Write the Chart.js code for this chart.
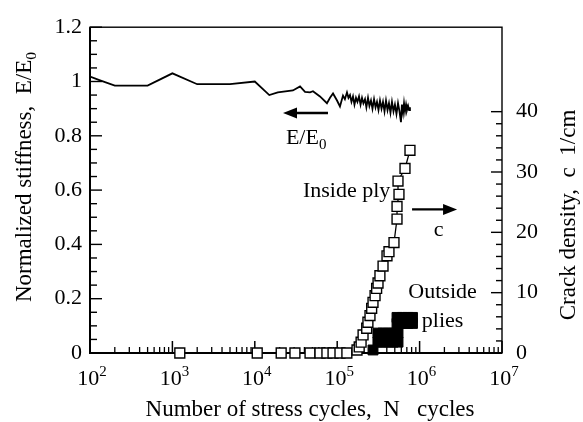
<!DOCTYPE html>
<html lang="en">
<head>
  <meta charset="UTF-8" />
  <title>Stiffness and crack density</title>
  <script src="https://cdn.jsdelivr.net/npm/chart.js"></script>
  <style>
    html, body { margin: 0; padding: 0; background: #fff; }
    #wrap { width: 583px; height: 422px; position: relative; }
  </style>
</head>
<body>
  <div id="wrap"><canvas id="chart"></canvas></div>

  <script>
    // ---- data ----
    const xTicks = [1e2, 1e3, 1e4, 1e5, 1e6, 1e7]
    const xTickExp = ['2', '3', '4', '5', '6', '7']   // labels are 10^exp
    const leftTicks = [0, 0.2, 0.4, 0.6, 0.8, 1, 1.2]
    const rightTicks = [0, 10, 20, 30, 40]

    // normalized stiffness E/E0 vs cycles
    const stiffN = [100, 130, 200, 500, 1000, 2000, 5000, 10000, 15000, 19000, 29000, 35400, 40700, 46800, 50800,
      61800, 75100, 81800, 89000, 99500, 108000, 117600, 124000, 131400, 137000, 143000, 149000, 155500, 162000,
      169000, 176000, 184000, 192000, 200000, 208000, 217500, 226000, 236500, 246000, 257000, 268000, 280000,
      292000, 304000, 317000, 330600, 345000, 359500, 375000, 391000, 408000, 425000, 443000, 462000, 482000,
      502000, 524000, 547000, 570000, 594000, 610000, 630000, 647000, 665000, 685000, 703000, 725000, 745000, 764000]
    const stiffE = [1.018, 1.005, 0.985, 0.985, 1.03, 0.99, 0.99, 1.0, 0.95, 0.96, 0.967, 0.982, 0.962, 0.96, 0.964,
      0.945, 0.92, 0.94, 0.956, 0.93, 0.908, 0.948, 0.935, 0.96, 0.94, 0.95, 0.925, 0.945, 0.915,
      0.94, 0.925, 0.945, 0.915, 0.94, 0.92, 0.935, 0.905, 0.94, 0.91, 0.93, 0.9, 0.935,
      0.905, 0.925, 0.895, 0.93, 0.9, 0.925, 0.89, 0.93, 0.895, 0.92, 0.885, 0.925, 0.89,
      0.915, 0.88, 0.92, 0.89, 0.85, 0.915, 0.885, 0.92, 0.89, 0.915, 0.895, 0.91, 0.895, 0.905]

    // crack density, inside ply (open squares)
    const insideN = [1230, 10700, 20900, 30700, 46800, 61800, 75000, 89000, 108000, 131000, 174000, 185000,
      195000, 206000, 228000, 236000, 250000, 262000, 272000, 288000, 301000, 313000, 330000, 360000,
      402000, 425000, 489000, 532000, 532000, 562000, 547000, 665000, 764000]
    const insideC = [0, 0, 0, 0, 0, 0, 0, 0, 0, 0, 0.5, 1,
      1.8, 3.0, 4.1, 5.1, 6.2, 7.4, 8.4, 9.5, 10.7, 11.6, 12.8, 14.4,
      16.1, 16.8, 18.3, 22.2, 24.3, 26.3, 28.5, 30.6, 33.6]

    // crack density, outside plies (filled squares)
    const outsideN = [272000, 312000, 312000, 360000, 360000, 414000, 414000, 476000, 476000, 547000, 547000,
      532000, 532000, 620000, 620000, 720000, 720000, 820000, 820000]
    const outsideC = [0.5, 1.8, 3.3, 1.8, 3.3, 1.8, 3.3, 1.8, 3.3, 1.8, 3.3,
      4.9, 5.9, 4.9, 5.9, 4.9, 5.9, 4.9, 5.9]

    const FONT = "'Liberation Serif', 'Times New Roman', serif"
    const pts = (xs, ys) => xs.map((v, i) => ({ x: v, y: ys[i] }))

    // draw a string made of parts, some sub- or superscripted, centred on (x, y)
    function richText(ctx, parts, x, y, size, rotate) {
      ctx.save()
      ctx.translate(x, y)
      if (rotate) ctx.rotate(-Math.PI / 2)
      ctx.textBaseline = 'middle'
      ctx.textAlign = 'left'
      const fs = p => (p.sub || p.sup ? size * 0.68 : size)
      let total = 0
      parts.forEach(p => {
        ctx.font = fs(p) + 'px ' + FONT
        p.w = ctx.measureText(p.t).width
        total += p.w
      })
      let cx = -total / 2
      parts.forEach(p => {
        ctx.font = fs(p) + 'px ' + FONT
        const dy = p.sub ? size * 0.3 : p.sup ? -size * 0.33 : 0
        ctx.fillText(p.t, cx, dy)
        cx += p.w
      })
      ctx.restore()
    }

    function arrow(ctx, x1, y1, x2, y2) {
      // arrow from (x1,y1) with head at (x2,y2)
      const dir = Math.sign(x2 - x1)
      ctx.beginPath()
      ctx.moveTo(x1, y1)
      ctx.lineTo(x2 - dir * 10, y2)
      ctx.lineWidth = 2.4
      ctx.stroke()
      ctx.beginPath()
      ctx.moveTo(x2, y2)
      ctx.lineTo(x2 - dir * 14, y2 - 5.5)
      ctx.lineTo(x2 - dir * 14, y2 + 5.5)
      ctx.closePath()
      ctx.fill()
    }

    const axesPlugin = {
      id: 'axesBox',
      beforeDatasetsDraw(chart) {
        const { ctx, chartArea: a, scales } = chart
        const x = scales.x, y = scales.y, y2 = scales.y2
        ctx.save()
        ctx.strokeStyle = '#000'
        ctx.lineWidth = 1.4
        ctx.strokeRect(a.left, a.top, a.right - a.left, a.bottom - a.top)
        const seg = (x1, y1, x2, y2_, w) => {
          ctx.lineWidth = w
          ctx.beginPath(); ctx.moveTo(x1, y1); ctx.lineTo(x2, y2_); ctx.stroke()
        }
        seg(a.left, a.top, a.left, a.bottom + 1, 2)
        seg(a.left - 1, a.bottom, a.right, a.bottom, 2)

        // x ticks, inward
        for (let d = 2; d < 7; d++) {
          for (let m = 2; m < 10; m++) {
            const px = x.getPixelForValue(m * Math.pow(10, d))
            seg(px, a.bottom, px, a.bottom - 6, 1.3)
          }
        }
        xTicks.forEach(v => {
          const px = x.getPixelForValue(v)
          seg(px, a.bottom, px, a.bottom - 12, 1.5)
        })

        // left ticks
        for (let k = 0; k <= 24; k++) {
          const py = y.getPixelForValue(k * 0.05)
          const major = k % 4 === 0
          seg(a.left, py, a.left + (major ? 12 : 7), py, 1.4)
        }

        // right ticks (0..40)
        for (let k = 0; k <= 40; k += 2) {
          const py = y2.getPixelForValue(k)
          const major = k % 10 === 0
          seg(a.right, py, a.right - (major ? 11 : 6), py, 1.4)
        }
        ctx.restore()
      },
      afterDraw(chart) {
        const { ctx, chartArea: a, scales } = chart
        const x = scales.x, y = scales.y, y2 = scales.y2
        ctx.save()
        ctx.fillStyle = '#000'
        ctx.strokeStyle = '#000'

        // x tick labels 10^n
        xTicks.forEach((v, i) => {
          richText(ctx, [{ t: '10' }, { t: xTickExp[i], sup: true }], x.getPixelForValue(v) + 2, a.bottom + 26, 22, false)
        })

        // axis titles
        richText(ctx, [{ t: 'Number of stress cycles,  N   cycles' }], 310, 410, 23, false)
        richText(ctx, [{ t: 'Normalized stiffness,  E/E' }, { t: '0', sub: true }], 25, 177, 23, true)
        richText(ctx, [{ t: 'Crack density,  c  1/cm' }], 569, 215, 23, true)

        // annotations
        const ay = y.getPixelForValue(0.884)
        arrow(ctx, x.getPixelForValue(77300), ay, x.getPixelForValue(22000), ay)
        richText(ctx, [{ t: 'E/E' }, { t: '0', sub: true }], x.getPixelForValue(42000), y.getPixelForValue(0.79), 22, false)

        richText(ctx, [{ t: 'Inside ply' }], x.getPixelForValue(130000), y2.getPixelForValue(26.8), 22, false)
        const by = y2.getPixelForValue(23.8)
        arrow(ctx, x.getPixelForValue(810000), by, x.getPixelForValue(2850000), by)
        richText(ctx, [{ t: 'c' }], x.getPixelForValue(1700000), y2.getPixelForValue(20.3), 22, false)

        richText(ctx, [{ t: 'Outside' }], x.getPixelForValue(1900000), y2.getPixelForValue(10.1), 22, false)
        richText(ctx, [{ t: 'plies' }], x.getPixelForValue(1900000), y2.getPixelForValue(5.3), 22, false)
        ctx.restore()
      }
    }

    const tickFont = { family: FONT, size: 22 }

    new Chart(document.getElementById('chart'), {
      type: 'line',
      data: {
        datasets: [
          {
            label: 'E/E0',
            data: pts(stiffN, stiffE),
            yAxisID: 'y',
            borderColor: '#000',
            borderWidth: 1.8,
            pointRadius: 0,
            tension: 0
          },
          {
            label: 'Inside ply',
            data: pts(insideN, insideC),
            yAxisID: 'y2',
            borderColor: '#000',
            borderWidth: 1.3,
            pointStyle: 'rect',
            pointRadius: 7,
            pointBorderWidth: 1.4,
            pointBackgroundColor: '#fff',
            pointBorderColor: '#000',
            clip: false,
            tension: 0
          },
          {
            label: 'Outside plies',
            data: pts(outsideN, outsideC),
            yAxisID: 'y2',
            showLine: false,
            pointStyle: 'rect',
            pointRadius: 7,
            pointBorderWidth: 1,
            pointBackgroundColor: '#000',
            pointBorderColor: '#000',
            clip: false
          }
        ]
      },
      options: {
        responsive: true,
        maintainAspectRatio: false,
        animation: false,
        layout: { padding: { top: 23, left: 0, right: 0, bottom: 0 } },
        plugins: { legend: { display: false }, tooltip: { enabled: false } },
        scales: {
          x: {
            type: 'logarithmic',
            min: 1e2,
            max: 1e7,
            afterBuildTicks: s => { s.ticks = xTicks.map(v => ({ value: v })) },
            afterFit: s => { s.height = 69 },
            grid: { display: false, drawTicks: false },
            border: { display: false },
            ticks: { display: false }
          },
          y: {
            position: 'left',
            min: 0,
            max: 1.2,
            afterBuildTicks: s => { s.ticks = leftTicks.map(v => ({ value: v })) },
            afterFit: s => { s.width = 90 },
            grid: { display: false, drawTicks: false },
            border: { display: false },
            ticks: { padding: 8, color: '#000', font: tickFont, callback: v => String(v) }
          },
          y2: {
            position: 'right',
            min: 0,
            max: 54,
            afterBuildTicks: s => { s.ticks = rightTicks.map(v => ({ value: v })) },
            afterFit: s => { s.width = 81 },
            grid: { display: false, drawTicks: false },
            border: { display: false },
            ticks: { padding: 14, color: '#000', font: tickFont }
          }
        }
      },
      plugins: [axesPlugin]
    })
  </script>
</body>
</html>
